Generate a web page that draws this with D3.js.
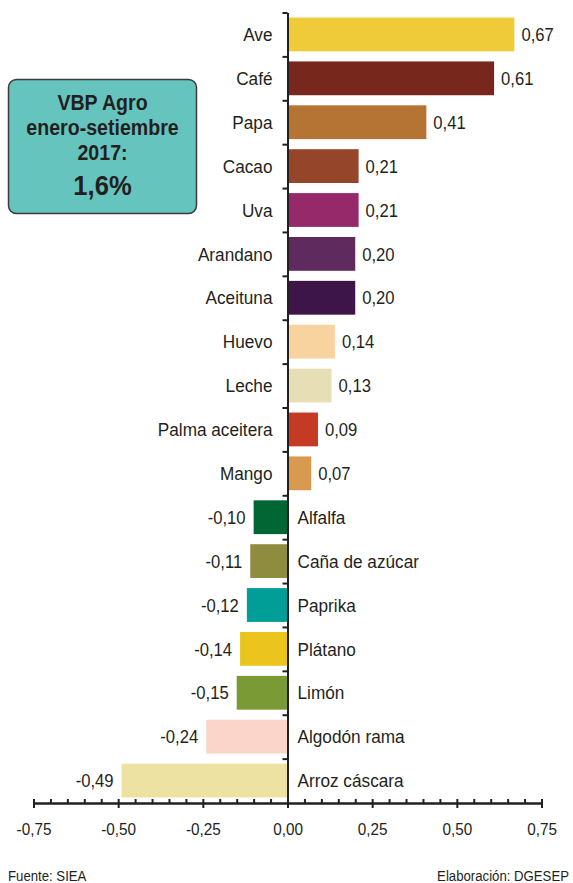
<!DOCTYPE html>
<html>
<head>
<meta charset="utf-8">
<script src="https://cdn.jsdelivr.net/npm/d3@7"></script>
<style>
    body { margin: 0; background: #fff; }
    text { font-family: "Liberation Sans", Arial, sans-serif; fill: #231f20; }
</style>
</head>
<body>
<div id="chart"></div>
<script>
// data
const categories = ["Ave", "Café", "Papa", "Cacao", "Uva", "Arandano", "Aceituna", "Huevo", "Leche",
    "Palma aceitera", "Mango", "Alfalfa", "Caña de azúcar", "Paprika", "Plátano", "Limón",
    "Algodón rama", "Arroz cáscara"];
const values = [0.67, 0.61, 0.41, 0.21, 0.21, 0.20, 0.20, 0.14, 0.13,
    0.09, 0.07, -0.10, -0.11, -0.12, -0.14, -0.15, -0.24, -0.49];
const colors = ["#efcb3a", "#78271c", "#b57433", "#94452a", "#96296a", "#5f2a5e", "#3d1548", "#f8d3a0", "#e6dfb5",
    "#c43a22", "#d9994e", "#006633", "#8e8c3e", "#009e96", "#ebc51e", "#7a9a35", "#fbd5ca", "#ede2a1"];
const majorTicks = [-0.75, -0.5, -0.25, 0, 0.25, 0.5, 0.75];
const minorTicks = d3.range(-15, 16).map(i => i * 0.05);
const boxLines = ["VBP Agro", "enero-setiembre", "2017:"];
const boxValue = "1,6%";

let width = 573, height = 883;
// the original font is a slightly condensed arial
const squeeze = " scale(0.9,1)";

let svg = d3.select("#chart")
    .append("svg")
    .attr("width", width)
    .attr("height", height);

const locale = d3.formatLocale({ decimal: ",", thousands: ".", grouping: [3], currency: ["", ""], minus: "-" });
const fmt = locale.format(".2f");

// scales
const x = d3.scaleLinear()
    .domain([-0.75, 0.75])
    .range([33.5, 541.5]);

const y = d3.scaleBand()
    .domain(categories)
    .range([12.5, 802.5])
    .paddingInner(0.23)
    .paddingOuter(0.115);

// boundaries between categories for the left ticks
const yEdge = d3.scaleLinear()
    .domain([0, categories.length])
    .range([12.5, 802.5]);

const rows = categories.map((c, i) => ({ name: c, value: values[i], color: colors[i] }));

// bars
svg.selectAll("rect.bar")
    .data(rows)
    .join("rect")
    .attr("class", "bar")
    .attr("x", d => x(Math.min(0, d.value)))
    .attr("y", d => y(d.name))
    .attr("width", d => Math.abs(x(d.value) - x(0)))
    .attr("height", y.bandwidth())
    .attr("fill", d => d.color);

// category labels on the opposite side of the bar
svg.selectAll("text.cat")
    .data(rows)
    .join("text")
    .attr("class", "cat")
    .attr("transform", d => {
        let tx = d.value >= 0 ? x(0) - 15 : x(0) + 10;
        return "translate(" + tx + "," + (y(d.name) + y.bandwidth() / 2) + ") scale(0.93,1)";
    })
    .attr("dy", "0.36em")
    .attr("text-anchor", d => d.value >= 0 ? "end" : "start")
    .style("font-size", "18.5px")
    .text(d => d.name);

// value labels
svg.selectAll("text.val")
    .data(rows)
    .join("text")
    .attr("class", "val")
    .attr("transform", d => {
        let tx = d.value >= 0 ? x(d.value) + 7 : x(d.value) - 8;
        return "translate(" + tx + "," + (y(d.name) + y.bandwidth() / 2) + ")" + squeeze;
    })
    .attr("dy", "0.36em")
    .attr("text-anchor", d => d.value >= 0 ? "start" : "end")
    .style("font-size", "18.5px")
    .text(d => fmt(d.value));

// vertical axis at zero
const yAxis = svg.append("g")
    .attr("transform", "translate(" + x(0) + ",0)")
    .call(d3.axisLeft(yEdge).tickValues(d3.range(0, categories.length)).tickSize(5).tickSizeOuter(0).tickFormat(""));
yAxis.selectAll("path, line").attr("stroke", "#231f20").attr("stroke-width", 2);

// x axis: minor ticks point up, major ticks cross
const axisY = 803;
const minorAxis = svg.append("g")
    .attr("transform", "translate(0," + axisY + ")")
    .call(d3.axisTop(x).tickValues(minorTicks).tickSize(4).tickSizeOuter(0).tickFormat(""));
minorAxis.select(".domain").remove();
minorAxis.selectAll("line").attr("stroke", "#231f20").attr("stroke-width", 2);

const xAxis = svg.append("g")
    .attr("transform", "translate(0," + axisY + ")")
    .call(d3.axisBottom(x).tickValues(majorTicks).tickSize(5).tickSizeOuter(0).tickPadding(15).tickFormat(fmt));
xAxis.select(".domain").attr("stroke", "#231f20").attr("stroke-width", 2.5);
xAxis.selectAll("line").attr("stroke", "#231f20").attr("stroke-width", 2);
xAxis.selectAll("text")
    .attr("transform", squeeze)
    .style("font-size", "17px")
    .style("font-family", "'Liberation Sans', Arial, sans-serif")
    .attr("fill", "#231f20");

// summary box
svg.append("rect")
    .attr("x", 8.5)
    .attr("y", 79.5)
    .attr("width", 188)
    .attr("height", 134)
    .attr("rx", 8)
    .attr("fill", "#65c5be")
    .attr("stroke", "#3a3a3a")
    .attr("stroke-width", 1.5);

svg.selectAll("text.box")
    .data(boxLines)
    .join("text")
    .attr("class", "box")
    .attr("transform", (d, i) => "translate(102.5," + (110 + i * 25) + ") scale(0.89,1)")
    .attr("text-anchor", "middle")
    .style("font-size", "22px")
    .style("font-weight", "bold")
    .text(d => d);

svg.append("text")
    .attr("transform", "translate(102.5,195) scale(0.95,1)")
    .attr("text-anchor", "middle")
    .style("font-size", "27px")
    .style("font-weight", "bold")
    .text(boxValue);

// footer
svg.append("text")
    .attr("transform", "translate(8,881) scale(0.88,1)")
    .style("font-size", "15px")
    .text("Fuente: SIEA");

svg.append("text")
    .attr("transform", "translate(569,881) scale(0.88,1)")
    .attr("text-anchor", "end")
    .style("font-size", "15px")
    .text("Elaboración: DGESEP");
</script>
</body>
</html>
